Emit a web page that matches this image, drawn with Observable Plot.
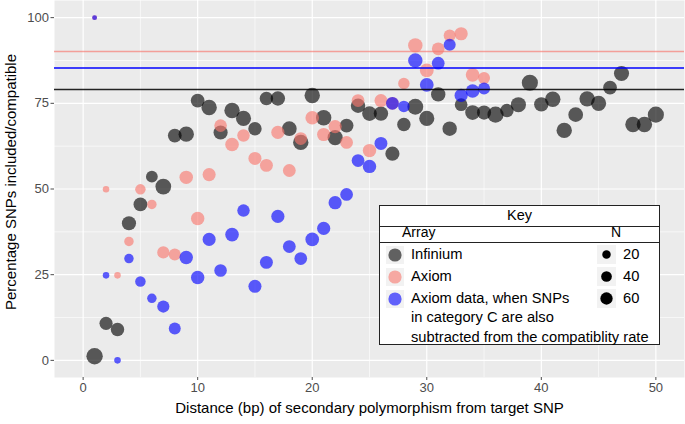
<!DOCTYPE html>
<html><head><meta charset="utf-8">
<script src="https://cdn.jsdelivr.net/npm/d3@7"></script>
<script src="https://cdn.jsdelivr.net/npm/@observablehq/plot@0.6"></script>
<style>
body{margin:0;background:#fff;}
#wrap{position:relative;width:685px;height:424px;font-family:"Liberation Sans",Arial,sans-serif;}
#legend{position:absolute;left:379px;top:205px;width:281px;height:140px;box-sizing:border-box;border:1px solid #222;background:#fff;color:#000;}
#legend div{position:absolute;white-space:nowrap;}
</style></head><body><div id="wrap"></div>
<script>
// ---- data ----
const xTicks = [0, 10, 20, 30, 40, 50];
const yTicks = [0, 25, 50, 75, 100];
const xMinor = [5, 15, 25, 35, 45];
const yMinor = [12.5, 37.5, 62.5, 87.5];

const infDist = [1,2,3,4,5,6,7,8,9,10,11,12,13,14,15,16,17,18,19,20,21,22,23,24,25,26,27,28,29,30,31,32,33,34,35,36,37,38,39,40,41,42,43,44,45,46,47,48,49,50];
const infPct = [1.2,10.8,9.0,40.0,45.5,53.6,50.7,65.6,66.0,75.8,73.8,66.5,72.9,70.6,67.6,76.4,76.4,67.6,63.6,77.3,70.8,65.0,68.5,74.3,72.0,72.0,60.3,68.8,74.0,70.6,77.6,67.6,74.6,72.3,72.3,71.7,72.9,74.6,81.0,74.7,76.2,67.1,71.7,76.3,75.0,79.6,83.7,68.8,68.8,71.7];
const infN = [125,71,75,86,80,53,112,80,107,80,107,86,107,102,75,75,90,95,107,107,107,102,80,90,95,90,86,75,115,102,90,90,65,95,86,120,75,102,120,90,107,107,95,107,102,80,102,107,107,120];

const axDist = [1,2,3,4,5,6,7,8,9,10,11,12,13,14,15,16,17,18,19,20,21,22,23,24,25,26,27,28,29,30,31,32,33,34,35];
const axPct = [100,49.9,24.8,34.7,49.9,45.5,31.5,30.9,53.4,41.4,54.2,68.5,63.0,65.6,58.9,56.9,66.5,55.4,64.7,70.8,65.9,68.2,63.6,75.8,61.2,75.8,75.0,80.8,91.9,84.6,90.9,94.8,95.3,83.3,82.4];
const axCPct = [100,24.8,0,29.7,23.0,18.1,15.7,9.3,30.0,24.2,35.3,26.2,36.7,43.7,21.6,28.6,42.0,33.2,29.7,35.3,38.5,46.0,48.4,58.3,56.6,63.3,75.0,74.1,87.5,80.4,86.7,92.1,77.3,78.6,79.3];
const axN = [2,8,8,28,38,28,58,55,75,75,70,63,78,62,70,68,72,66,65,78,72,72,65,65,75,68,65,49,90,80,65,56,72,78,55];

const seriesKeys = ["Infinium", "Axiom", "AxiomC"];
const seriesLabels = ["Infinium", "Axiom", "Axiom data, when SNPs\nin category C are also\nsubtracted from the compatiblity rate"];
const seriesColors = ["#000000", "#F8766D", "#0000FF"];
const refValues = [79.0, 90.1, 85.3];
const nLegend = [20, 40, 60];

const xTitle = "Distance (bp) of secondary polymorphism from target SNP";
const yTitle = "Percentage SNPs included/compatible";
const legendTitle = "Key";
const colorTitle = "Array";
const sizeTitle = "N";

// ---- build rows ----
const rows = [
  ...infDist.map((d, i) => ({series: "Infinium", dist: d, pct: infPct[i], n: infN[i]})),
  ...axDist.map((d, i) => ({series: "Axiom", dist: d, pct: axPct[i], n: axN[i]})),
  ...axDist.map((d, i) => ({series: "AxiomC", dist: d, pct: axCPct[i], n: axN[i]}))
];

const font = '"Liberation Sans", Arial, sans-serif';
const plot = Plot.plot({
  width: 685, height: 424,
  marginLeft: 54, marginRight: 1, marginTop: 0, marginBottom: 47,
  style: {fontFamily: font, background: "transparent"},
  x: {domain: [-2.5, 52.5]},
  y: {domain: [-5, 105]},
  r: {type: "sqrt", domain: [0, 125], range: [1.6, 8.2]},
  color: {domain: seriesKeys, range: seriesColors},
  marks: [
    Plot.frame({fill: "#EBEBEB", stroke: null}),
    Plot.ruleX(xMinor, {stroke: "#fff", strokeWidth: 0.6}),
    Plot.ruleY(yMinor, {stroke: "#fff", strokeWidth: 0.6}),
    Plot.ruleX(xTicks, {stroke: "#fff", strokeWidth: 1.2}),
    Plot.ruleY(yTicks, {stroke: "#fff", strokeWidth: 1.2}),
    Plot.dot(rows, {x: "dist", y: "pct", r: "n", fill: "series", fillOpacity: 0.63, sort: null}),
    Plot.ruleY([refValues[1]], {stroke: seriesColors[1], strokeOpacity: 0.65, strokeWidth: 1.4}),
    Plot.ruleY([refValues[2]], {stroke: seriesColors[2], strokeWidth: 1.4}),
    Plot.ruleY([refValues[0]], {stroke: seriesColors[0], strokeOpacity: 0.85, strokeWidth: 1.5}),
    Plot.axisX({ticks: xTicks, tickSize: 3, tickPadding: 2, fontSize: 13, color: "#4D4D4D", label: null}),
    Plot.axisY({ticks: yTicks, tickSize: 3.5, tickPadding: 2, fontSize: 13, color: "#4D4D4D", label: null}),
    Plot.text([xTitle], {text: d => d, frameAnchor: "bottom", textAnchor: "middle", dy: 35, fontSize: 15, fill: "#000"}),
    Plot.text([yTitle], {text: d => d, frameAnchor: "left", textAnchor: "middle", rotate: -90, dx: -43, dy: -7, fontSize: 15, fill: "#000"})
  ]
});

const wrap = document.getElementById("wrap");
wrap.appendChild(plot);

// ---- legend ----
const rScale = plot.scale("r");
const lg = document.createElement("div");
lg.id = "legend";
wrap.appendChild(lg);
const L = 380, T = 206; // inner origin (absolute)
function add(html, style) {
  const d = document.createElement("div");
  d.innerHTML = html;
  Object.assign(d.style, style);
  lg.appendChild(d);
  return d;
}
add(legendTitle, {left: "0px", width: "100%", textAlign: "center", top: (215 - T - 9) + "px", fontSize: "14.5px", lineHeight: "18px"});
add("", {left: "0px", right: "0px", top: (226 - T) + "px", height: "1px", background: "#222"});
add(colorTitle, {left: (402 - L) + "px", top: (232 - T - 8) + "px", fontSize: "14px", lineHeight: "16px"});
add(sizeTitle, {left: (611 - L) + "px", top: (232 - T - 8) + "px", fontSize: "14px", lineHeight: "16px"});
add("", {left: "0px", right: "0px", top: (242 - T) + "px", height: "1px", background: "#222"});

const rowY = [254.5, 276.8, 298.8];
const lineH = 19.2;
seriesKeys.forEach((k, i) => {
  const cy = rowY[i];
  add(`<svg width="18" height="18"><rect width="18" height="18" fill="#F2F2F2"/><circle cx="9" cy="9" r="6.6" fill="${seriesColors[i]}" fill-opacity="0.6"/></svg>`,
      {left: (386 - L) + "px", top: (cy - T - 9) + "px", width: "18px", height: "18px", lineHeight: "0"});
  const lines = seriesLabels[i].split("\n");
  add(lines.join("<br>"), {left: (411 - L) + "px", top: (cy - T - lineH / 2) + "px", fontSize: "14.7px", lineHeight: lineH + "px"});
});
nLegend.forEach((v, i) => {
  const cy = rowY[i];
  const r = rScale.apply(v);
  add(`<svg width="19" height="19"><rect width="19" height="19" fill="#F2F2F2"/><circle cx="9.5" cy="9.5" r="${r}" fill="#000"/></svg>`,
      {left: (597 - L) + "px", top: (cy - T - 9.5) + "px", width: "19px", height: "19px", lineHeight: "0"});
  add(String(v), {left: (623 - L) + "px", top: (cy - T - lineH / 2) + "px", fontSize: "14.7px", lineHeight: lineH + "px"});
});
</script></body></html>
